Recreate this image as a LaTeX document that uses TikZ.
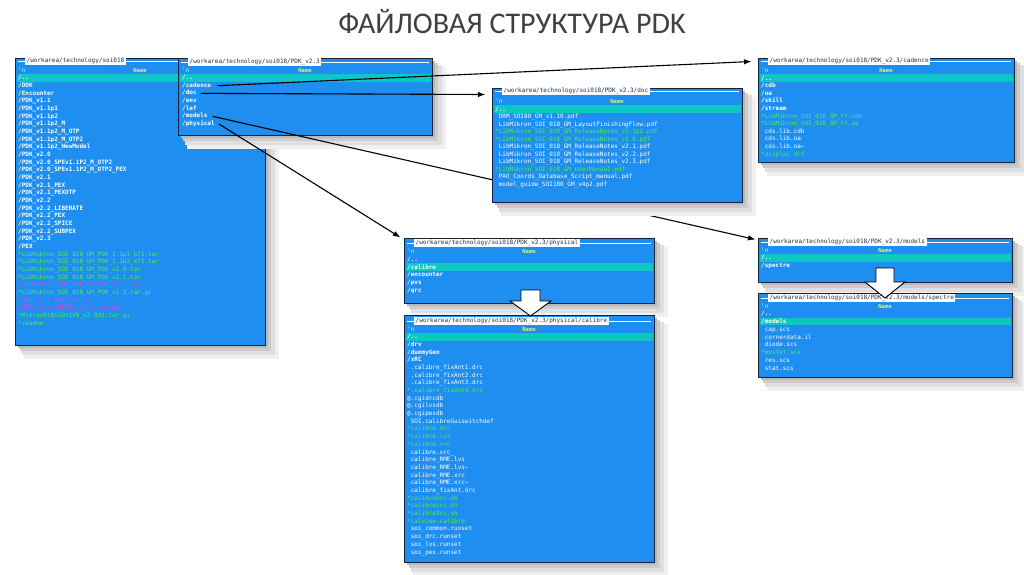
\documentclass[tikz,border=0pt]{standalone}
\usepackage{fontspec}
\usetikzlibrary{fit,arrows.meta}
\newfontfamily\monofont{DejaVu Sans Mono}
\newfontfamily\titlefont{Carlito}
\definecolor{pblue}{RGB}{30,142,240}
\definecolor{pborder}{RGB}{25,35,55}
\definecolor{hl}{RGB}{14,198,196}
\definecolor{fgreen}{RGB}{80,240,80}
\definecolor{fmag}{RGB}{235,60,235}
\definecolor{ncol}{RGB}{170,255,250}
\definecolor{namecol}{RGB}{225,245,110}
\definecolor{titlegray}{RGB}{64,64,64}
\definecolor{labeltext}{RGB}{40,45,60}
\pgfdeclarelayer{front}
\pgfsetlayers{main,front}
\tikzset{
  rowtxt/.style={font=\monofont\fontsize{6}{7}\selectfont, inner sep=0pt, text height=4.6pt, text depth=1.4pt, anchor=base west, text=white},
  dirrow/.style={font=\monofont\bfseries\fontsize{6}{7}\selectfont},
  exerow/.style={text=fgreen},
  magrow/.style={text=fmag},
  nrow/.style={text=ncol},
  namelbl/.style={font=\monofont\bfseries\fontsize{5.5}{6}\selectfont, inner sep=0pt, text height=4.6pt, text depth=1.4pt, anchor=base, text=namecol},
  panelbox/.style={draw=pborder, fill=pblue, line width=1pt, inner sep=0pt},
  titlelbl/.style={font=\monofont\fontsize{6}{7}\selectfont, fill=white, text=labeltext, inner xsep=1.5pt, inner ysep=0.6pt, text height=4.6pt, text depth=1.4pt},
  conn/.style={line width=1.1pt, -{Latex[length=7.5pt,width=5.5pt]}},
  blockarrow/.style={fill=white, draw=black, line width=0.9pt, line join=miter}
}
\newcommand\panel[7]{%
  \fill[gray!12] (#2+9,#3+9) rectangle (#4+14,#5+14);
  \fill[gray!25] (#2+7,#3+7) rectangle (#4+10,#5+10);
  \fill[gray!40] (#2+5,#3+5) rectangle (#4+6,#5+6);
  \fill[gray!55] (#2+3,#3+3) rectangle (#4+3,#5+3);
  \node[panelbox, fit={(#2,#3) (#4,#5)}] (#1) {};
  \draw[white, line width=0.6pt] (#2+3,#7) -- (#4-3,#7);
  \node[titlelbl, anchor=west] (#1-title) at (#2+10,#7) {#6};
}
\newcommand\rows[4]{\def\curname{#1}\def\cursp{#4}\coordinate (#1-o) at (#2,#3);}
\newcommand\rw[3]{\path (\curname-o) ++(0,{#1*\cursp}) node[rowtxt,#2] (\curname-#1) {#3};}
\newcommand\hlbar[3]{\fill[hl] (#1+1.5,#3-3.9) rectangle (#2-1.5,#3+3.9);}
\newcommand\namelabel[3]{\node[namelbl] (\curname-name) at ({(#1+#2)/2},#3) {Name};}
\begin{document}
\begin{tikzpicture}[x=1pt,y=-1pt]
\useasboundingbox (0,0) rectangle (1024,574);
\fill[white] (0,0) rectangle (1024,574);
\node[font=\titlefont\fontsize{30}{36}\selectfont, text=titlegray] (title) at (512,22) {ФАЙЛОВАЯ СТРУКТУРА PDK};

% ---------- left panel
\panel{L}{15}{58}{265}{345}{/workarea/technology/soi018}{61}
\hlbar{15}{265}{77.7}
\rows{L}{18}{72}{7.67}
\namelabel{15}{265}{72}
\rw{0}{nrow}{\textquotesingle n}
\rw{1}{dirrow}{/..}
\rw{2}{dirrow}{/DDK}
\rw{3}{dirrow}{/Encounter}
\rw{4}{dirrow}{/PDK\_v1.1}
\rw{5}{dirrow}{/PDK\_v1.1p1}
\rw{6}{dirrow}{/PDK\_v1.1p2}
\rw{7}{dirrow}{/PDK\_v1.1p2\_M}
\rw{8}{dirrow}{/PDK\_v1.1p2\_M\_OTP}
\rw{9}{dirrow}{/PDK\_v1.1p2\_M\_OTP2}
\rw{10}{dirrow}{/PDK\_v1.1p2\_NewModel}
\rw{11}{dirrow}{/PDK\_v2.0}
\rw{12}{dirrow}{/PDK\_v2.0\_SPEv1.1P2\_M\_OTP2}
\rw{13}{dirrow}{/PDK\_v2.0\_SPEv1.1P2\_M\_OTP2\_PEX}
\rw{14}{dirrow}{/PDK\_v2.1}
\rw{15}{dirrow}{/PDK\_v2.1\_PEX}
\rw{16}{dirrow}{/PDK\_v2.1\_PEXOTP}
\rw{17}{dirrow}{/PDK\_v2.2}
\rw{18}{dirrow}{/PDK\_v2.2\_LIBERATE}
\rw{19}{dirrow}{/PDK\_v2.2\_PEX}
\rw{20}{dirrow}{/PDK\_v2.2\_SPICE}
\rw{21}{dirrow}{/PDK\_v2.2\_SUBPEX}
\rw{22}{dirrow}{/PDK\_v2.3}
\rw{23}{dirrow}{/PEX}
\rw{24}{exerow}{*LibMikron\_SOI\_018\_GM\_PDK\_1.1p1\_kf1.tar}
\rw{25}{exerow}{*LibMikron\_SOI\_018\_GM\_PDK\_1.1p2\_kf1.tar}
\rw{26}{exerow}{*LibMikron\_SOI\_018\_GM\_PDK\_v2.0.tar}
\rw{27}{exerow}{*LibMikron\_SOI\_018\_GM\_PDK\_v2.1.tar}
\rw{28}{magrow}{\ LibMikron\_SOI\_018\_GM\_PDK\_v2.2.tar}
\rw{29}{exerow}{*LibMikron\_SOI\_018\_GM\_PDK\_v2.3.tar.gz}
\rw{30}{magrow}{\ PDK\_v2.1\_PEX.tar.gz}
\rw{31}{magrow}{\ PDK\_v2.2\_SUBPEX\_1492.tar.gz}
\rw{32}{exerow}{*Mikron018s50V1V8\_v2.0d1.tar.gz}
\rw{33}{exerow}{*readme}

% ---------- PDK_v2.3 panel
\panel{R}{178}{58}{432}{135}{/workarea/technology/soi018/PDK\_v2.3}{62}
\hlbar{178}{432}{77.65}
\rows{R}{182}{72}{7.65}
\namelabel{178}{432}{72}
\rw{0}{nrow}{\textquotesingle n}
\rw{1}{dirrow}{/..}
\rw{2}{dirrow}{/cadence}
\rw{3}{dirrow}{/doc}
\rw{4}{dirrow}{/env}
\rw{5}{dirrow}{/lef}
\rw{6}{dirrow}{/models}
\rw{7}{dirrow}{/physical}

% ---------- doc panel (front layer, covers the models connector)
\begin{pgfonlayer}{front}
\panel{D}{492}{88}{742}{202}{/workarea/technology/soi018/PDK\_v2.3/doc}{91}
\hlbar{492}{742}{109}
\rows{D}{495}{103.5}{7.5}
\namelabel{492}{742}{103.5}
\rw{0}{nrow}{\textquotesingle n}
\rw{1}{dirrow}{/..}
\rw{2}{}{\ DRM\_SOI80\_GM\_v1.10.pdf}
\rw{3}{}{\ LibMikron\_SOI\_018\_GM\_LayoutFinishingFlow.pdf}
\rw{4}{exerow}{*LibMikron\_SOI\_018\_GM\_ReleaseNotes\_v1.1p2.pdf}
\rw{5}{exerow}{*LibMikron\_SOI\_018\_GM\_ReleaseNotes\_v2.0.pdf}
\rw{6}{}{\ LibMikron\_SOI\_018\_GM\_ReleaseNotes\_v2.1.pdf}
\rw{7}{}{\ LibMikron\_SOI\_018\_GM\_ReleaseNotes\_v2.2.pdf}
\rw{8}{}{\ LibMikron\_SOI\_018\_GM\_ReleaseNotes\_v2.3.pdf}
\rw{9}{exerow}{*LibMikron\_SOI\_018\_GM\_UserManual.pdf}
\rw{10}{}{\ PAO\_Coords\_Database\_Script\_manual.pdf}
\rw{11}{}{\ model\_guide\_SOI180\_GM\_v4p2.pdf}
\end{pgfonlayer}

% ---------- cadence panel
\panel{C}{758}{58}{1014}{162}{/workarea/technology/soi018/PDK\_v2.3/cadence}{61}
\hlbar{758}{1014}{78}
\rows{C}{761}{72.4}{7.6}
\namelabel{758}{1014}{72.4}
\rw{0}{nrow}{\textquotesingle n}
\rw{1}{dirrow}{/..}
\rw{2}{dirrow}{/cdb}
\rw{3}{dirrow}{/oa}
\rw{4}{dirrow}{/skill}
\rw{5}{dirrow}{/stream}
\rw{6}{exerow}{*LibMikron\_SOI\_018\_GM\_tf.cdb}
\rw{7}{exerow}{*LibMikron\_SOI\_018\_GM\_tf.oa}
\rw{8}{}{\ cds.lib.cdb}
\rw{9}{}{\ cds.lib.oa}
\rw{10}{}{\ cds.lib.oa\textasciitilde}
\rw{11}{exerow}{*display.drf}

% ---------- models panel
\panel{M}{758}{238}{1012}{282}{/workarea/technology/soi018/PDK\_v2.3/models}{242}
\hlbar{758}{1012}{257.8}
\rows{M}{761}{252}{7.8}
\namelabel{758}{1012}{252}
\rw{0}{nrow}{\textquotesingle n}
\rw{1}{dirrow}{/..}
\rw{2}{dirrow}{/spectre}

% ---------- spectre panel
\panel{S}{758}{293}{1012}{377}{/workarea/technology/soi018/PDK\_v2.3/models/spectre}{298}
\hlbar{758}{1012}{321.5}
\rows{S}{761}{308}{7.75}
\namelabel{758}{1012}{308}
\rw{0}{nrow}{\textquotesingle n}
\rw{1}{dirrow}{/..}
\rw{2}{dirrow}{/models}
\rw{3}{}{\ cap.scs}
\rw{4}{}{\ cornerdata.il}
\rw{5}{}{\ diode.scs}
\rw{6}{exerow}{*mosfet.scs}
\rw{7}{}{\ res.scs}
\rw{8}{}{\ stat.scs}

% ---------- physical panel
\panel{P}{404}{238}{654}{303}{/workarea/technology/soi018/PDK\_v2.3/physical}{243}
\hlbar{404}{654}{267}
\rows{P}{407}{253.5}{7.75}
\namelabel{404}{654}{253.5}
\rw{0}{nrow}{\textquotesingle n}
\rw{1}{dirrow}{/..}
\rw{2}{dirrow}{/calibre}
\rw{3}{dirrow}{/encounter}
\rw{4}{dirrow}{/pvs}
\rw{5}{dirrow}{/qrc}

% ---------- calibre panel
\panel{K}{404}{315}{654}{562}{/workarea/technology/soi018/PDK\_v2.3/physical/calibre}{321}
\hlbar{404}{654}{336.7}
\rows{K}{407}{331}{7.69}
\namelabel{404}{654}{331}
\rw{0}{nrow}{\textquotesingle n}
\rw{1}{dirrow}{/..}
\rw{2}{dirrow}{/drv}
\rw{3}{dirrow}{/dummyGen}
\rw{4}{dirrow}{/xRC}
\rw{5}{}{\ .calibre\_fixAnt1.drc}
\rw{6}{}{\ .calibre\_fixAnt2.drc}
\rw{7}{}{\ .calibre\_fixAnt3.drc}
\rw{8}{exerow}{*.calibre\_fixAnt4.drc}
\rw{9}{}{@.cgidrcdb}
\rw{10}{}{@.cgilvsdb}
\rw{11}{}{@.cgipexdb}
\rw{12}{}{\ SOI.calibreGuiswitchdef}
\rw{13}{exerow}{*calibre.drc}
\rw{14}{exerow}{*calibre.lvs}
\rw{15}{exerow}{*calibre.xrc}
\rw{16}{}{\ calibre.xrc\_}
\rw{17}{}{\ calibre\_RME.lvs}
\rw{18}{}{\ calibre\_RME.lvs\textasciitilde}
\rw{19}{}{\ calibre\_RME.xrc}
\rw{20}{}{\ calibre\_RME.xrc\textasciitilde}
\rw{21}{}{\ calibre\_fixAnt.drc}
\rw{22}{exerow}{*calibreDrc.sh}
\rw{23}{exerow}{*calibreLvs.sh}
\rw{24}{exerow}{*calibreXrc.sh}
\rw{25}{exerow}{*calview.calibre}
\rw{26}{}{\ soi\_common.runset}
\rw{27}{}{\ soi\_drc.runset}
\rw{28}{}{\ soi\_lvs.runset}
\rw{29}{}{\ soi\_pex.runset}

% ---------- connectors
\draw[conn] ([xshift=6pt]R-2.east) -- ([xshift=-6pt,yshift=-4pt]C.north west);
\draw[conn] ([xshift=4pt]R-3.east) -- ([xshift=-6pt,yshift=-7pt]D.north west);
\draw[conn] ([xshift=5pt]R-6.east) -- ([xshift=-2pt,yshift=-2pt]M.north west);
\draw[conn] ([xshift=4pt]R-7.east) -- ([xshift=-3pt,yshift=0pt]P.north west);

% ---------- block arrows
\draw[blockarrow] (521,290) -- (540,290) -- (540,301) -- (551,301) -- (530.5,316) -- (510,301) -- (521,301) -- cycle;
\draw[blockarrow] (876,268) -- (894,268) -- (894,282) -- (905,282) -- (885,298) -- (865,282) -- (876,282) -- cycle;
\end{tikzpicture}
\end{document}
